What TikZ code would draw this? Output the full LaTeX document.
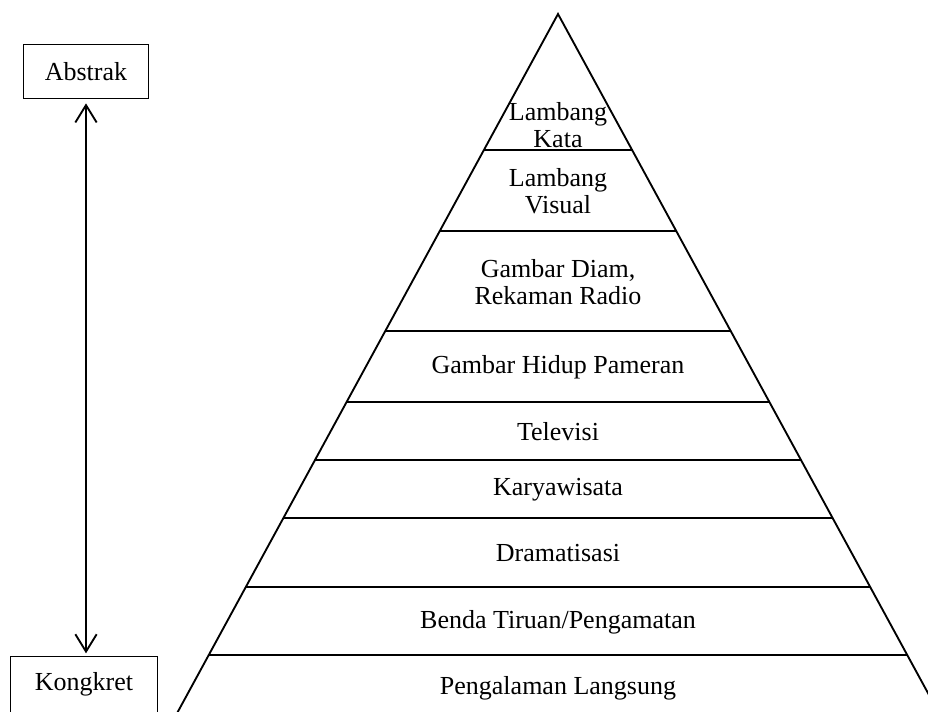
\documentclass[tikz,border=0pt]{standalone}
\usepackage{fontspec}
\setmainfont{Liberation Serif}
\usetikzlibrary{calc,arrows.meta}
\tikzset{panah/.tip={Straight Barb[length=13pt,width=16pt]}}

\begin{document}
\begin{tikzpicture}[x=0.75pt, y=-0.75pt, line width=1.4pt,
  every node/.style={font=\fontsize{19.5}{20}\selectfont, align=center},
  ujung/.style={draw, line width=0.8pt, minimum width=94pt, minimum height=41pt},
  level/.style={inner sep=0pt},
]
\useasboundingbox (0,0) rectangle (928,711);
\clip (0,0) rectangle (928,711);
\coordinate (top) at (558,14);
\coordinate (bl) at (157,750);
\coordinate (br) at (959,750);
\draw (bl) -- (top) -- (br);
\foreach \yy in {150,231,331,402,460,518,587,655}
  \draw ($(top)!{(\yy-14)/736}!(bl)$) -- ($(top)!{(\yy-14)/736}!(br)$);

\node[level] (kata) at (558,125) {Lambang\\Kata};
\node[level] (visual) at (558,191) {Lambang\\Visual};
\node[level] (diam) at (558,282) {Gambar Diam,\\Rekaman Radio};
\node[level] (hidup) at (558,367) {Gambar Hidup Pameran};
\node[level] (tv) at (558,432) {Televisi};
\node[level] (wisata) at (558,490) {Karyawisata};
\node[level] (drama) at (558,553) {Dramatisasi};
\node[level] (tiruan) at (558,622) {Benda Tiruan/Pengamatan};
\node[level] (langsung) at (558,688) {Pengalaman Langsung};

\node[ujung] (abs) at (86,71.5) {Abstrak};
\node[ujung, minimum width=110pt, minimum height=0pt, inner ysep=0pt, text height=25.5pt,
  text depth=30pt, anchor=north] (kon) at (84,656) {Kongkret};
\draw[panah-panah, line width=1.4pt, shorten <=3pt, shorten >=2pt]
  (abs.south) -- (abs.south |- kon.north);
\end{tikzpicture}
\end{document}
